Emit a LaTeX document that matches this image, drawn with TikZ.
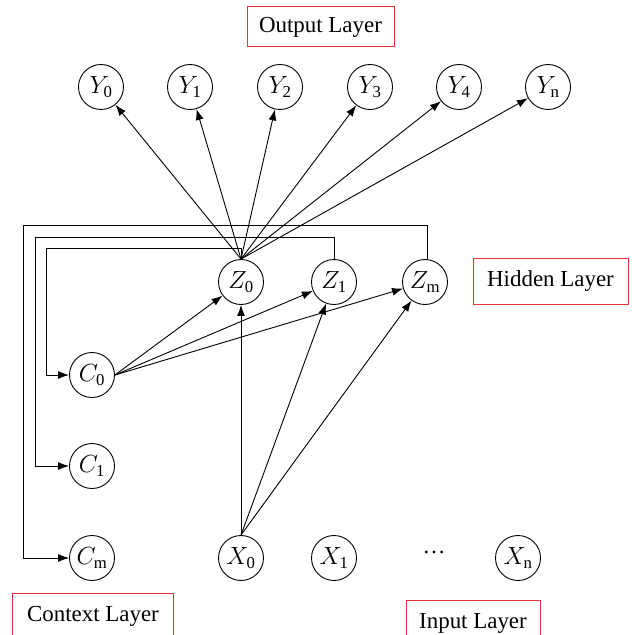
\documentclass[tikz,border=0pt]{standalone}
\usepackage{fontspec}
\setmainfont{Liberation Serif}
\usetikzlibrary{arrows.meta}
\definecolor{boxred}{RGB}{232,50,56}
\begin{document}
\begin{tikzpicture}[x=1bp,y=-1bp,
  neuron/.style={draw,circle,minimum size=45bp,inner sep=0pt,line width=0.9bp,font=\fontsize{24}{28}\selectfont},
  layerbox/.style={draw=boxred,line width=1bp,inner sep=0pt,font=\fontsize{23}{27}\selectfont},
  arr/.style={-{Latex[length=11bp,width=8bp]},line width=0.9bp},
  fb/.style={-{Latex[length=11bp,width=8bp]},line width=1bp}]
\useasboundingbox (0,0) rectangle (632,635);
\clip (0,0) rectangle (632,635);
\fill[white] (0,0) rectangle (632,635);
% output layer
\node[neuron] (Y0) at (101,87) {$Y_{\mathrm{0}}$};
\node[neuron] (Y1) at (190,87) {$Y_{\mathrm{1}}$};
\node[neuron] (Y2) at (280,87) {$Y_{\mathrm{2}}$};
\node[neuron] (Y3) at (370,87) {$Y_{\mathrm{3}}$};
\node[neuron] (Y4) at (459,87) {$Y_{\mathrm{4}}$};
\node[neuron] (Yn) at (548,87) {$Y_{\mathrm{n}}$};
% hidden layer
\node[neuron] (Z0) at (241,282) {$Z_{\mathrm{0}}$};
\node[neuron] (Z1) at (334,282) {$Z_{\mathrm{1}}$};
\node[neuron] (Zm) at (425,282) {$Z_{\mathrm{m}}$};
% context layer
\node[neuron] (C0) at (92,375) {$C_{\mathrm{0}}$};
\node[neuron] (C1) at (92,466) {$C_{\mathrm{1}}$};
\node[neuron] (Cm) at (92,558) {$C_{\mathrm{m}}$};
% input layer
\node[neuron] (X0) at (241,558) {$X_{\mathrm{0}}$};
\node[neuron] (X1) at (334,558) {$X_{\mathrm{1}}$};
\node[neuron] (Xn) at (518,558) {$X_{\mathrm{n}}$};
\node[font=\fontsize{23}{27}\selectfont] (dots) at (434,552) {\dots};
% layer labels
\node[layerbox,minimum width=147bp,minimum height=40bp] (outl) at (320.5,27) {Output Layer};
\node[layerbox,minimum width=155bp,minimum height=46bp] (hidl) at (550.5,281) {Hidden Layer};
\node[layerbox,minimum width=160bp,minimum height=46bp] (ctxl) at (93,616) {Context Layer};
\node[layerbox,minimum width=134bp,minimum height=46bp] (inl) at (473,623) {Input Layer};
% hidden to output
\foreach \y in {Y0,Y1,Y2,Y3,Y4,Yn}
  \draw[arr] (Z0.north) -- (\y);
% context to hidden
\foreach \z in {Z0,Z1,Zm}
  \draw[arr] (C0.east) -- (\z);
% input to hidden
\foreach \z in {Z0,Z1,Zm}
  \draw[arr] (X0.north) -- (\z);
% feedback
\coordinate (f0) at (46,248);
\coordinate (f1) at (35,237);
\coordinate (f2) at (23,225);
\draw[fb] (Z0.north) -- (Z0.north |- f0) -- (f0) |- (C0.west);
\draw[fb] (Z1.north) -- (Z1.north |- f1) -- (f1) |- (C1.west);
\draw[fb] ([xshift=2bp]Zm.north) -- ([xshift=2bp]Zm.north |- f2) -- (f2) |- (Cm.west);
\end{tikzpicture}
\end{document}
